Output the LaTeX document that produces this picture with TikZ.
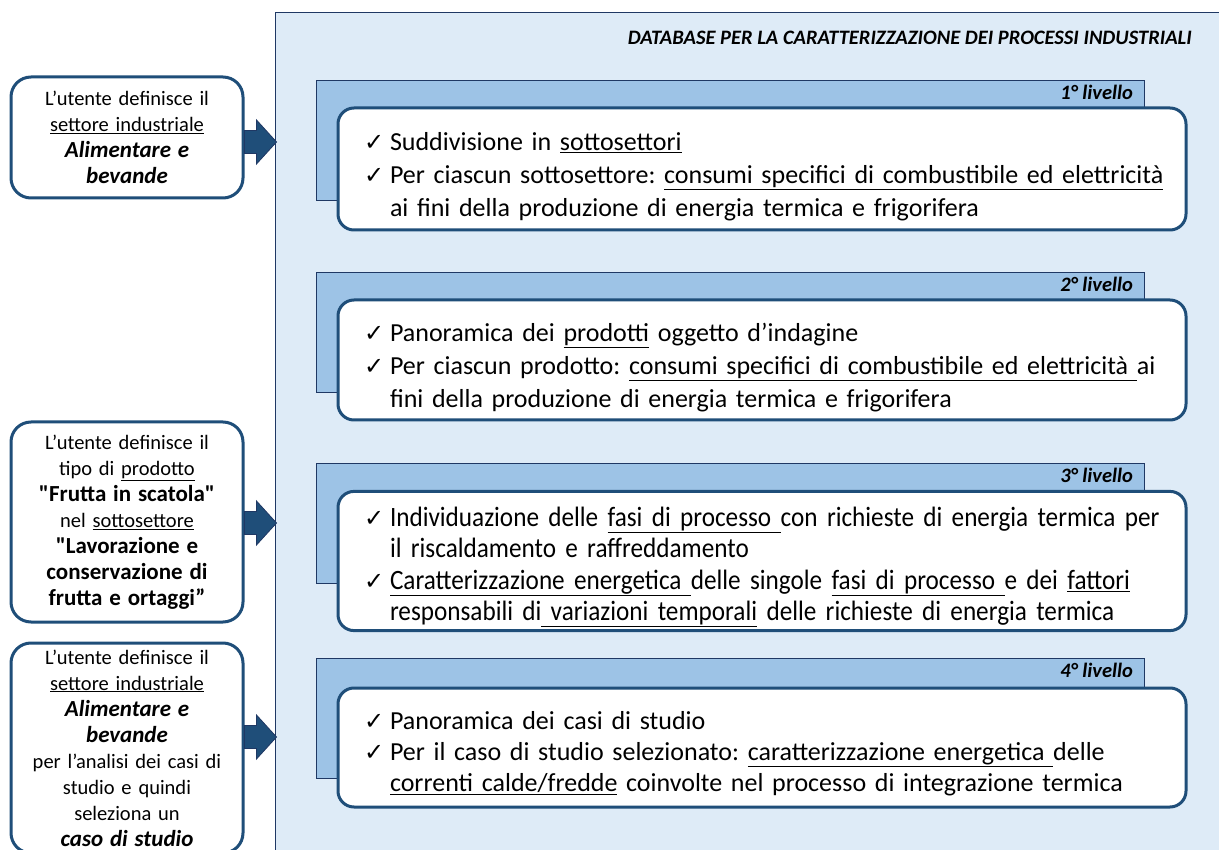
\documentclass[tikz,border=0pt]{standalone}
\usepackage{fontspec}
\setmainfont{Carlito}
\newfontfamily\simboli{DejaVu Sans}
\newfontfamily\stretto[FakeStretch=0.9]{Carlito}
\usetikzlibrary{positioning}
\definecolor{fondodb}{HTML}{DEEBF7}
\definecolor{fondolivello}{HTML}{9DC3E6}
\definecolor{bordoscuro}{HTML}{1F3864}
\definecolor{bordoblu}{HTML}{1F4E79}
\newcommand{\spunta}{\makebox[31pt][l]{\hspace{5pt}\simboli\fontsize{24}{24}\selectfont ✓}}
\newcommand{\voce}[1]{\par\noindent\hangindent=31pt\hangafter=1\spunta#1\par}
\newcommand{\forte}[1]{{\fontsize{23}{26}\selectfont\bfseries #1}}

\begin{document}
\begin{tikzpicture}[x=1pt,y=-1pt,
  pannello/.style={draw=bordoscuro,line width=1.2pt,fill=fondodb,inner sep=0pt},
  testata/.style={draw=bordoscuro,line width=1.2pt,fill=fondolivello,inner sep=0pt,minimum width=828pt,minimum height=120pt,anchor=north west},
  etichetta/.style={font=\fontsize{20.5}{20}\selectfont\bfseries\itshape,anchor=north east,inner xsep=12pt,inner ysep=5pt},
  livello/.style={draw=bordoblu,line width=3pt,fill=white,rounded corners=16pt,text width=806pt,inner xsep=21pt,align=left,font=\frenchspacing\fontsize{26}{33}\selectfont},
  utente/.style={draw=bordoblu,line width=3pt,fill=white,rounded corners=20pt,minimum width=232pt,text width=224pt,inner xsep=4pt,align=center,font=\fontsize{20.5}{26}\selectfont},
  frecciona/.style={fill=bordoblu,draw=bordoscuro,line width=0.8pt,line join=miter}]
\useasboundingbox (0,0) rectangle (1219,850);
\clip (0,0) rectangle (1219,850);

\node[pannello,anchor=north west,minimum width=960pt,minimum height=860pt] (db) at (275,12) {};
\node[anchor=east,inner sep=0pt,font=\fontsize{20.5}{21}\selectfont\bfseries\itshape] (tit) at (1192,38)
  {DATABASE PER LA CARATTERIZZAZIONE DEI PROCESSI INDUSTRIALI};

% livelli del database
\node[testata] (t1) at (316,80) {};
\node[etichetta] (e1) at (t1.north east) {1° livello};
\node[livello,minimum height=122pt] (l1) at (762,169) {%
  \voce{Suddivisione in \underline{sottosettori}}
  \voce{Per ciascun sottosettore: \underline{consumi specifici di combustibile ed elettricità}\newline
  ai fini della produzione di energia termica e frigorifera}};

\node[testata] (t2) at (316,272) {};
\node[etichetta] (e2) at (t2.north east) {2° livello};
\node[livello,minimum height=120pt] (l2) at (762,360) {%
  \voce{Panoramica dei \underline{prodotti} oggetto d’indagine}
  \voce{Per ciascun prodotto: \underline{consumi specifici di combustibile ed elettricità }ai\newline
  fini della produzione di energia termica e frigorifera}};

\node[testata] (t3) at (316,463) {};
\node[etichetta] (e3) at (t3.north east) {3° livello};
\node[livello,minimum height=138pt,font=\frenchspacing\stretto\fontsize{28}{31.5}\selectfont] (l3) at (762,561) {%
  \voce{Individuazione delle \underline{fasi di processo }con richieste di energia termica per\newline
  il riscaldamento e raffreddamento}
  \voce{\underline{Caratterizzazione energetica }delle singole \underline{fasi di processo }e dei \underline{fattori}\newline
  responsabili di\underline{ variazioni temporali} delle richieste di energia termica}};

\node[testata] (t4) at (316,658) {};
\node[etichetta] (e4) at (t4.north east) {4° livello};
\node[livello,minimum height=119pt,font=\frenchspacing\fontsize{26}{31}\selectfont] (l4) at (762,747.5) {%
  \voce{Panoramica dei casi di studio}
  \voce{Per il caso di studio selezionato: \underline{caratterizzazione energetica }delle\newline
  \underline{correnti calde/fredde} coinvolte nel processo di integrazione termica}};

% scelte dell'utente
\node[utente,minimum height=121pt] (s1) at (127,137.5) {%
  L’utente definisce il\\ \underline{settore industriale}\\
  \forte{\itshape Alimentare e}\\ \forte{\itshape bevande}};
\node[utente,minimum height=200pt] (s2) at (127,522) {%
  L’utente definisce il\\ tipo di \underline{prodotto}\\
  \forte{\textquotedbl Frutta in scatola\textquotedbl}\\ nel \underline{sottosettore}\\
  \forte{\textquotedbl Lavorazione e}\\ \forte{conservazione di}\\ \forte{frutta e ortaggi”}};
\node[utente,minimum height=210pt] (s3) at (127,748) {%
  L’utente definisce il\\ \underline{settore industriale}\\
  \forte{\itshape Alimentare e}\\ \forte{\itshape bevande}\\
  per l’analisi dei casi di\\ studio e quindi\\ seleziona un\\
  \forte{\itshape caso di studio}};

\filldraw[frecciona] ([yshift=-4.5pt]s1.east) -- ++(0,-11.5) -- ++(12,0) -- ++(0,-10.5) -- ++(20,22) -- ++(-20,22) -- ++(0,-10.5) -- ++(-12,0) -- cycle;
\filldraw[frecciona] ([yshift=-1pt]s2.east) -- ++(0,-11.5) -- ++(12,0) -- ++(0,-10.5) -- ++(20,22) -- ++(-20,22) -- ++(0,-10.5) -- ++(-12,0) -- cycle;
\filldraw[frecciona] ([yshift=11pt]s3.east) -- ++(0,-11.5) -- ++(12,0) -- ++(0,-10.5) -- ++(20,22) -- ++(-20,22) -- ++(0,-10.5) -- ++(-12,0) -- cycle;
\end{tikzpicture}
\end{document}
